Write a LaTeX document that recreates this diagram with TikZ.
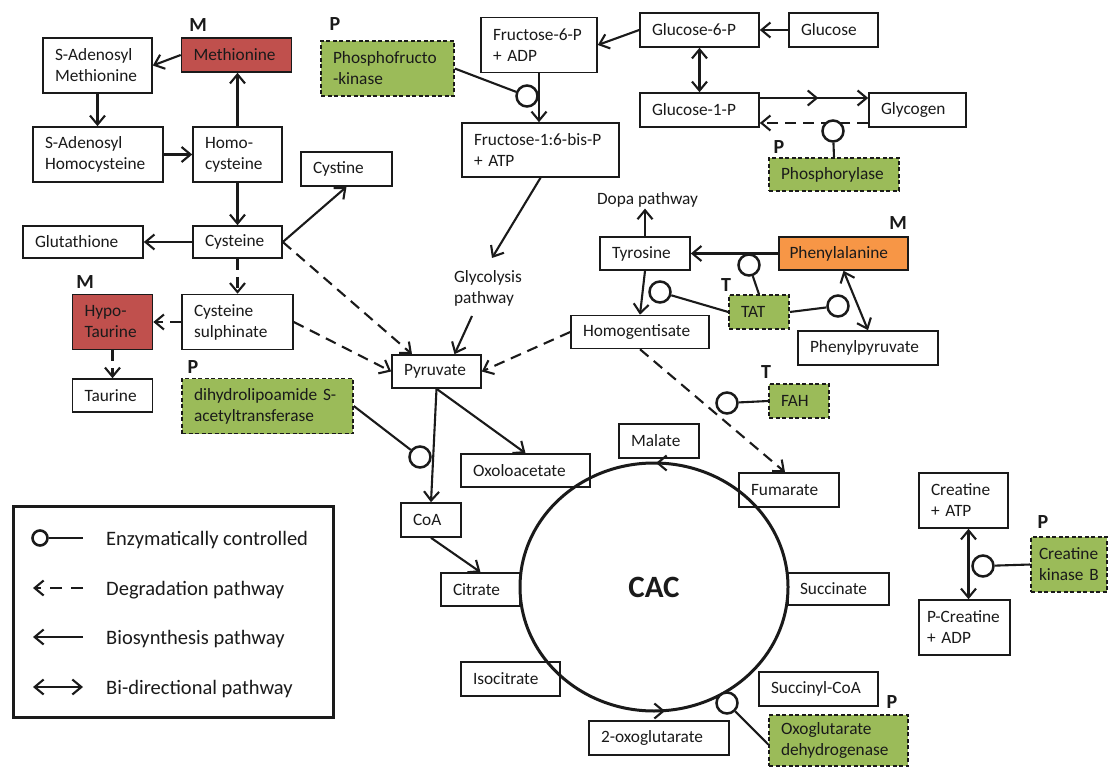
\documentclass[tikz,border=0pt]{standalone}
\usepackage{fontspec}
\setmainfont{Carlito}
\usetikzlibrary{arrows.meta,calc,shapes.geometric}
\definecolor{mred}{HTML}{C0504D}
\definecolor{morange}{HTML}{F79646}
\definecolor{mgreen}{HTML}{9BBB59}
\definecolor{ink}{HTML}{1A1A1A}
\hyphenpenalty=10000
\exhyphenpenalty=10000
\begin{document}
\begin{tikzpicture}[x=1pt,y=-1pt,
 >={Straight Barb[length=9pt,width=15pt]},
 every node/.style={font=\fontsize{17.3}{21}\selectfont, text=ink},
 box/.style={draw=ink, line width=1.6pt, fill=white, align=left, inner xsep=12pt, inner ysep=0pt, minimum height=34pt},
 tall/.style={minimum height=55pt},
 redbox/.style={fill=mred},
 orbox/.style={fill=morange},
 grbox/.style={fill=mgreen, dash pattern=on 4pt off 2.5pt, line width=1.5pt},
 bio/.style={->, line width=2.1pt, draw=ink},
 deg/.style={->, line width=2.1pt, draw=ink, dash pattern=on 11pt off 7pt},
 bi/.style={<->, line width=2.1pt, draw=ink},
 enz/.style={circle, draw=ink, line width=2.5pt, fill=white, minimum size=21pt, inner sep=0pt},
 stem/.style={line width=2.1pt, draw=ink},
 lab/.style={font=\bfseries\fontsize{20}{24}\selectfont},
 txt/.style={align=left, inner sep=1pt},
 legtxt/.style={anchor=base west, inner sep=0pt, font=\fontsize{20.5}{24}\selectfont},
]
\fill[white] (0,0) rectangle (1108,767);
\useasboundingbox (0,0) rectangle (1108,767);

% ---------- nodes ----------
\node[lab] (lM1) at (198,25) {M};
\node[box,redbox,text width=86pt] (meth) at (236.5,55) {Methionine};
\node[box,tall,text width=85pt] (sam) at (97.5,65.5) {S-Adenosyl\\Methionine};
\node[box,tall,text width=106pt] (sah) at (98,154.5) {S-Adenosyl\\Homocysteine};
\node[box,tall,text width=65pt] (homo) at (237.5,154.5) {Homo-\\cysteine};
\node[box,text width=67pt] (cystine) at (346.5,169) {Cystine};
\node[box,text width=96pt,minimum height=32pt] (glut) at (83,242) {Glutathione};
\node[box,text width=65pt,minimum height=32pt] (cys) at (237.5,242) {Cysteine};
\node[box,tall,text width=87pt] (cyssul) at (237.5,322) {Cysteine\\sulphinate};
\node[lab] (lM2) at (85,282) {M};
\node[box,tall,redbox,text width=56pt] (hypo) at (112.5,322) {Hypo-\\Taurine};
\node[box,text width=56pt,minimum height=33pt] (taur) at (112.5,395.5) {Taurine};
\node[lab] (lP1) at (193,367) {P};
\node[box,tall,grbox,text width=147pt] (dlat) at (267.5,406) {dihydrolipoamide~S-\\acetyltransferase};
\node[box,text width=65pt,minimum height=33pt] (pyr) at (436.5,371.5) {Pyruvate};
\node[txt] (glyc) at (488,288) {Glycolysis\\pathway};
\node[lab] (lP2) at (335,24) {P};
\node[box,tall,grbox,text width=109pt] (pfk) at (387.5,68.5) {Phosphofructo\\-kinase};
\node[box,tall,text width=92pt] (f6p) at (539,45) {Fructose-6-P\\+ ADP};
\node[box,tall,text width=133pt,minimum height=54pt] (f16) at (540.5,150) {Fructose-1:6-bis-P\\+ ATP};
\node[box,text width=95pt] (g6p) at (699.5,30) {Glucose-6-P};
\node[box,text width=65pt] (glc) at (833.5,30) {Glucose};
\node[box,text width=95pt] (g1p) at (699.5,110) {Glucose-1-P};
\node[box,text width=73pt] (glyco) at (917.5,110) {Glycogen};
\node[lab] (lP3) at (779,147) {P};
\node[box,grbox,text width=106pt,minimum height=33pt] (phos) at (834,174.5) {Phosphorylase};
\node[txt] (dopa) at (647.5,200) {Dopa pathway};
\node[box,text width=66pt,minimum height=33pt] (tyr) at (645,253.5) {Tyrosine};
\node[lab] (lM3) at (898,223) {M};
\node[box,orbox,text width=108pt,inner xsep=10.5pt,minimum height=33pt] (phe) at (843.5,253.5) {Phenylalanine};
\node[lab] (lT1) at (726,285) {T};
\node[box,grbox,text width=36pt] (tat) at (759,312) {TAT};
\node[box,text width=114pt,minimum height=33pt] (homog) at (640,332) {Homogentisate};
\node[box,text width=116pt] (phepyr) at (868,348) {Phenylpyruvate};
\node[lab] (lT2) at (766,372) {T};
\node[box,grbox,text width=36pt] (fah) at (799,401) {FAH};
\node[box,text width=56pt] (malate) at (659,441) {Malate};
\node[box,text width=105pt,minimum height=33pt] (oxalo) at (525.5,470.5) {Oxoloacetate};
\node[box,text width=76pt] (fum) at (789,490) {Fumarate};
\node[box,text width=36pt] (coa) at (431,520) {CoA};
\node[box,text width=55pt,minimum height=33pt] (cit) at (480.5,589.5) {Citrate};
\node[box,text width=77pt,minimum height=32pt] (succ) at (838.5,589) {Succinate};
\node[box,text width=75pt] (isocit) at (510.5,679) {Isocitrate};
\node[box,text width=95pt] (succoa) at (818.5,689) {Succinyl-CoA};
\node[box,text width=116pt] (oxog) at (659,738) {2-oxoglutarate};
\node[lab] (lP4) at (892,702) {P};
\node[box,grbox,text width=115pt,minimum height=51pt] (odh) at (838.5,740.5) {Oxoglutarate\\dehydrogenase};
\node[box,tall,text width=65pt] (creat) at (963.5,500.5) {Creatine\\+ ATP};
\node[box,tall,text width=75pt,inner xsep=8pt] (pcreat) at (964.5,627.5) {P-Creatine\\+ ADP};
\node[lab] (lP5) at (1043,522) {P};
\node[box,tall,grbox,text width=60pt,inner xsep=8pt] (ckb) at (1069,564.5) {Creatine\\kinase~B};

\node[draw=ink, ellipse, line width=3pt, outer sep=0pt, inner sep=0pt, minimum width=268pt, minimum height=248pt, font=\bfseries\fontsize{31}{36}\selectfont] (cac) at (654,587) {CAC};

% ---------- connectors ----------
\draw[bio] (meth.west) -- (sam.east);
\draw[bio] (sam.south) -- (sam.south |- sah.north);
\draw[bio] (sah.east) -- (homo.west);
\draw[bio] (homo.north) -- (homo.north |- meth.south);
\draw[bio] (homo.south) -- (cys.north);
\draw[bio] (cys.west) -- (glut.east);
\draw[bio] (cys.east) -- (cystine.south);
\draw[deg] (cys.south) -- (cyssul.north);
\draw[deg] (cyssul.west) -- (hypo.east);
\draw[deg] (hypo.south) -- (taur.north);
\draw[deg] (cys.east) -- ([xshift=-24.5pt]pyr.north);
\draw[deg] (cyssul.east) -- (pyr.west);
\draw[bio] ([xshift=-16pt,yshift=-28pt]glyc.center) -- ([xshift=18pt]pyr.north);
\draw[bio] (f16.south) -- ([xshift=4pt,yshift=30pt]glyc.center);
\draw[bio] (f6p.south) -- (f6p.south |- f16.north);
\draw[bio] (g6p.west) -- (f6p.east);
\draw[bio] (glc.west) -- (g6p.east);
\draw[bi] (g6p.south) -- (g1p.north);
\coordinate (ga) at ([yshift=12pt]g1p.east);
\coordinate (gb) at ([yshift=12pt]glyco.west);
\draw[bio] (ga) -- ($(ga)!0.54!(gb)$);
\draw[bio] (ga) -- (gb);
\draw[deg] ([yshift=-13pt]glyco.west) -- ([yshift=-13pt]g1p.east);
\draw[bio] (tyr.north) -- (tyr.north |- dopa.south);
\draw[bio] (phe.west) -- (tyr.east);
\draw[bio] (tyr.south) -- (homog.north);
\draw[deg] (homog.west) -- (pyr.east);
\draw[deg] (homog.south) -- ([xshift=-4pt]fum.north);
\draw[bi] (phe.south) -- (phepyr.north);
\draw[bio] (pyr.south) -- (coa.north);
\draw[bio] (pyr.south) -- (oxalo.north);
\draw[bio] (coa.south) -- (cit.north);
\draw[bi] ([xshift=5pt]creat.south) -- ([xshift=5pt]creat.south |- pcreat.north);
\draw[bio] ([xshift=12pt]cac.north) -- ([xshift=2pt]cac.north);
\draw[bio] ([xshift=-1pt]cac.south) -- ([xshift=11pt]cac.south);

% ---------- enzymes ----------
\node[enz] (e1) at (833,131) {};
\node[enz] (e2) at (527,96) {};
\node[enz] (e3) at (749,265) {};
\node[enz] (e4) at (660,292) {};
\node[enz] (e5) at (838,306) {};
\node[enz] (e6) at (727,403) {};
\node[enz] (e7) at (420,457) {};
\node[enz] (e8) at (727,703) {};
\node[enz] (e9) at (983,566) {};
\draw[stem] (phos.north) -- (e1);
\draw[stem] (pfk.east) -- (e2);
\draw[stem] (tat.north) -- (e3);
\draw[stem] (tat.west) -- (e4);
\draw[stem] (tat.east) -- (e5);
\draw[stem] (fah.west) -- (e6);
\draw[stem] (dlat.east) -- (e7);
\draw[stem] ([yshift=-4pt]odh.west) -- (e8);
\draw[stem] (ckb.west) -- (e9);

% ---------- legend ----------
\node[draw=ink, line width=3pt, minimum width=320pt, minimum height=211pt, inner sep=0pt] (legend) at (173,611.5) {};
\node[enz, minimum size=15pt, line width=2.6pt] (lc) at (40,538) {};
\coordinate (l1) at (83,538);
\draw[stem] (lc) -- (l1);
\node[legtxt] (t1) at (106,545) {Enzymatically controlled};
\coordinate (l2a) at (33,588);
\coordinate (l2b) at (83,588);
\draw[deg, dash pattern=on 12pt off 9pt] (l2b) -- (l2a);
\node[legtxt] (t2) at (106,595) {Degradation pathway};
\coordinate (l3a) at (33,637);
\coordinate (l3b) at (83,637);
\draw[bio] (l3b) -- (l3a);
\node[legtxt] (t3) at (106,644) {Biosynthesis pathway};
\coordinate (l4a) at (33,687);
\coordinate (l4b) at (83,687);
\draw[bi] (l4a) -- (l4b);
\node[legtxt] (t4) at (106,694) {Bi-directional pathway};
\end{tikzpicture}
\end{document}
